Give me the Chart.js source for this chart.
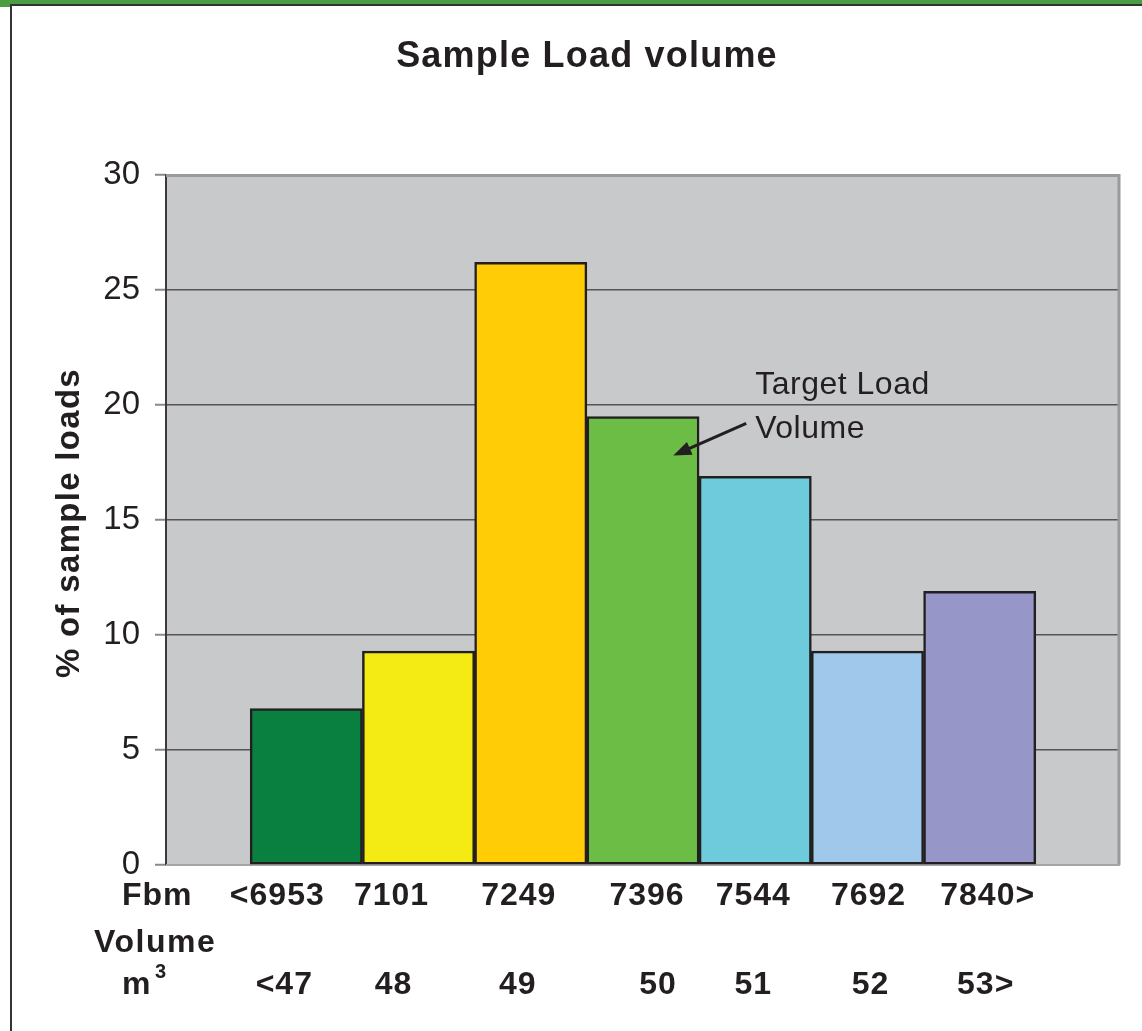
<!DOCTYPE html>
<html>
<head>
<meta charset="utf-8">
<script src="https://cdn.jsdelivr.net/npm/chart.js@4.4.1/dist/chart.umd.min.js"></script>
<style>
  html, body { margin: 0; padding: 0; background: #fff; }
  #wrap { width: 1142px; height: 1031px; position: relative; }
</style>
</head>
<body>
<div id="wrap"><canvas id="loadChart"></canvas></div>
<script>
// Data
const fbmLabels = ['<6953', '7101', '7249', '7396', '7544', '7692', '7840>'];
const volumeLabels = ['<47', '48', '49', '50', '51', '52', '53>'];
const percentLoads = [6.8, 9.3, 26.2, 19.5, 16.9, 9.3, 11.9];

// Styles
const barColors = ['#0a8040', '#f5eb14', '#ffcc05', '#6bbd45', '#6ecbdc', '#a0c8ea', '#9696c8'];
const FONT = '"Liberation Sans", Arial, sans-serif';
const INK = '#231f20';
// small hand placement of the under-axis labels, in pixels from bar centre
const fbmNudge = [-29, -27, -12, 4, -2, 1, 8];
const volNudge = [-22, -25, -13, 15, -2, 3, 6];

function drawText(ctx, text, x, y, font, align, spacing) {
    ctx.font = font;
    ctx.textAlign = align;
    ctx.letterSpacing = spacing || '0px';
    ctx.fillText(text, x, y);
}

const decorations = {
    id: 'decorations',
    beforeDraw(chart) {
        const { ctx, chartArea: a } = chart;
        ctx.save();
        ctx.fillStyle = '#fff';
        ctx.fillRect(0, 0, chart.width, chart.height);
        // page frame
        ctx.fillStyle = '#4a9d40';
        ctx.fillRect(0, 0, chart.width, 4);
        ctx.fillRect(0, 0, 10, 7);
        ctx.fillStyle = '#333';
        ctx.fillRect(10, 4, chart.width - 10, 2);
        ctx.fillRect(10, 4, 2, chart.height);
        // plot background
        ctx.fillStyle = '#c8c9cb';
        ctx.fillRect(a.left, a.top, a.right - a.left, a.bottom - a.top);
        ctx.restore();
    },
    beforeDatasetsDraw(chart) {
        const { ctx, chartArea: a } = chart;
        ctx.save();
        ctx.strokeStyle = '#9a9a9c';
        ctx.lineWidth = 3;
        ctx.beginPath();
        ctx.moveTo(a.left, a.top + 0.5);
        ctx.lineTo(a.right - 1, a.top + 0.5);
        ctx.lineTo(a.right - 1, a.bottom);
        ctx.stroke();
        ctx.lineWidth = 2;
        ctx.strokeStyle = '#a5a5a7';
        ctx.beginPath();
        ctx.moveTo(a.left, a.bottom);
        ctx.lineTo(a.right, a.bottom);
        ctx.stroke();
        ctx.restore();
    },
    afterDraw(chart) {
        const { ctx } = chart;
        const xs = chart.scales.x, ys = chart.scales.y;
        ctx.save();
        ctx.fillStyle = INK;
        ctx.textBaseline = 'alphabetic';

        // chart title
        drawText(ctx, 'Sample Load volume', 587, 67, 'bold 36px ' + FONT, 'center', '1.2px');

        // y axis title
        ctx.save();
        ctx.translate(79, 523);
        ctx.rotate(-Math.PI / 2);
        drawText(ctx, '% of sample loads', 0, 0, 'bold 33px ' + FONT, 'center', '1.3px');
        ctx.restore();

        // rows under the axis
        const bold = 'bold 32px ' + FONT;
        drawText(ctx, 'Fbm', 122, 905, bold, 'left', '1px');
        drawText(ctx, 'Volume', 94, 952, bold, 'left', '1.5px');
        drawText(ctx, 'm', 122, 994, bold, 'left', '0px');
        drawText(ctx, '3', 155, 978, 'bold 20px ' + FONT, 'left');
        fbmLabels.forEach((lab, i) => {
            drawText(ctx, lab, xs.getPixelForValue(i + 1) + fbmNudge[i], 905, bold, 'center', '1px');
        });
        volumeLabels.forEach((lab, i) => {
            drawText(ctx, lab, xs.getPixelForValue(i + 1) + volNudge[i], 994, bold, 'center', '1px');
        });

        // annotation
        const reg = '32px ' + FONT;
        drawText(ctx, 'Target Load', xs.getPixelForValue(5), ys.getPixelForValue(20.5), reg, 'left', '0.5px');
        drawText(ctx, 'Volume', xs.getPixelForValue(5), ys.getPixelForValue(18.55), reg, 'left', '0.5px');
        const x0 = xs.getPixelForValue(4.92), y0 = ys.getPixelForValue(19.2);
        const x1 = xs.getPixelForValue(4.27), y1 = ys.getPixelForValue(17.8);
        const ang = Math.atan2(y1 - y0, x1 - x0);
        ctx.strokeStyle = INK;
        ctx.lineWidth = 3;
        ctx.beginPath();
        ctx.moveTo(x0, y0);
        ctx.lineTo(x1 - 14 * Math.cos(ang), y1 - 14 * Math.sin(ang));
        ctx.stroke();
        ctx.beginPath();
        ctx.moveTo(x1, y1);
        ctx.lineTo(x1 - 18 * Math.cos(ang) + 7 * Math.sin(ang), y1 - 18 * Math.sin(ang) - 7 * Math.cos(ang));
        ctx.lineTo(x1 - 18 * Math.cos(ang) - 7 * Math.sin(ang), y1 - 18 * Math.sin(ang) + 7 * Math.cos(ang));
        ctx.closePath();
        ctx.fill();
        ctx.restore();
    }
};

const ctx = document.getElementById('loadChart').getContext('2d');
new Chart(ctx, {
    type: 'bar',
    data: {
        datasets: [{
            data: percentLoads.map((v, i) => ({ x: i + 1, y: v })),
            backgroundColor: barColors,
            borderColor: INK,
            borderWidth: 2.5,
            borderSkipped: false,
            barPercentage: 1,
            categoryPercentage: 1
        }]
    },
    options: {
        responsive: true,
        maintainAspectRatio: false,
        animation: false,
        devicePixelRatio: 1,
        layout: { padding: { top: 175, right: 22, bottom: 166, left: 0 } },
        plugins: {
            legend: { display: false },
            tooltip: { enabled: false },
            title: { display: false }
        },
        scales: {
            x: {
                type: 'linear',
                display: false,
                offset: false,
                min: -0.25,
                max: 8.25
            },
            y: {
                min: 0,
                max: 30,
                afterFit(scale) { scale.width = 166; },
                ticks: {
                    stepSize: 5,
                    padding: 15,
                    color: INK,
                    font: { family: FONT, size: 33 }
                },
                grid: {
                    color: c => (c.tick && (c.tick.value === 0 || c.tick.value === 30)) ? 'rgba(0,0,0,0)' : '#555557',
                    lineWidth: 1.5,
                    tickColor: '#8a8a8c',
                    tickLength: 11,
                    tickWidth: 2
                },
                border: { display: true, color: '#3a3a3a', width: 2 }
            }
        }
    },
    plugins: [decorations]
});
</script>
</body>
</html>
